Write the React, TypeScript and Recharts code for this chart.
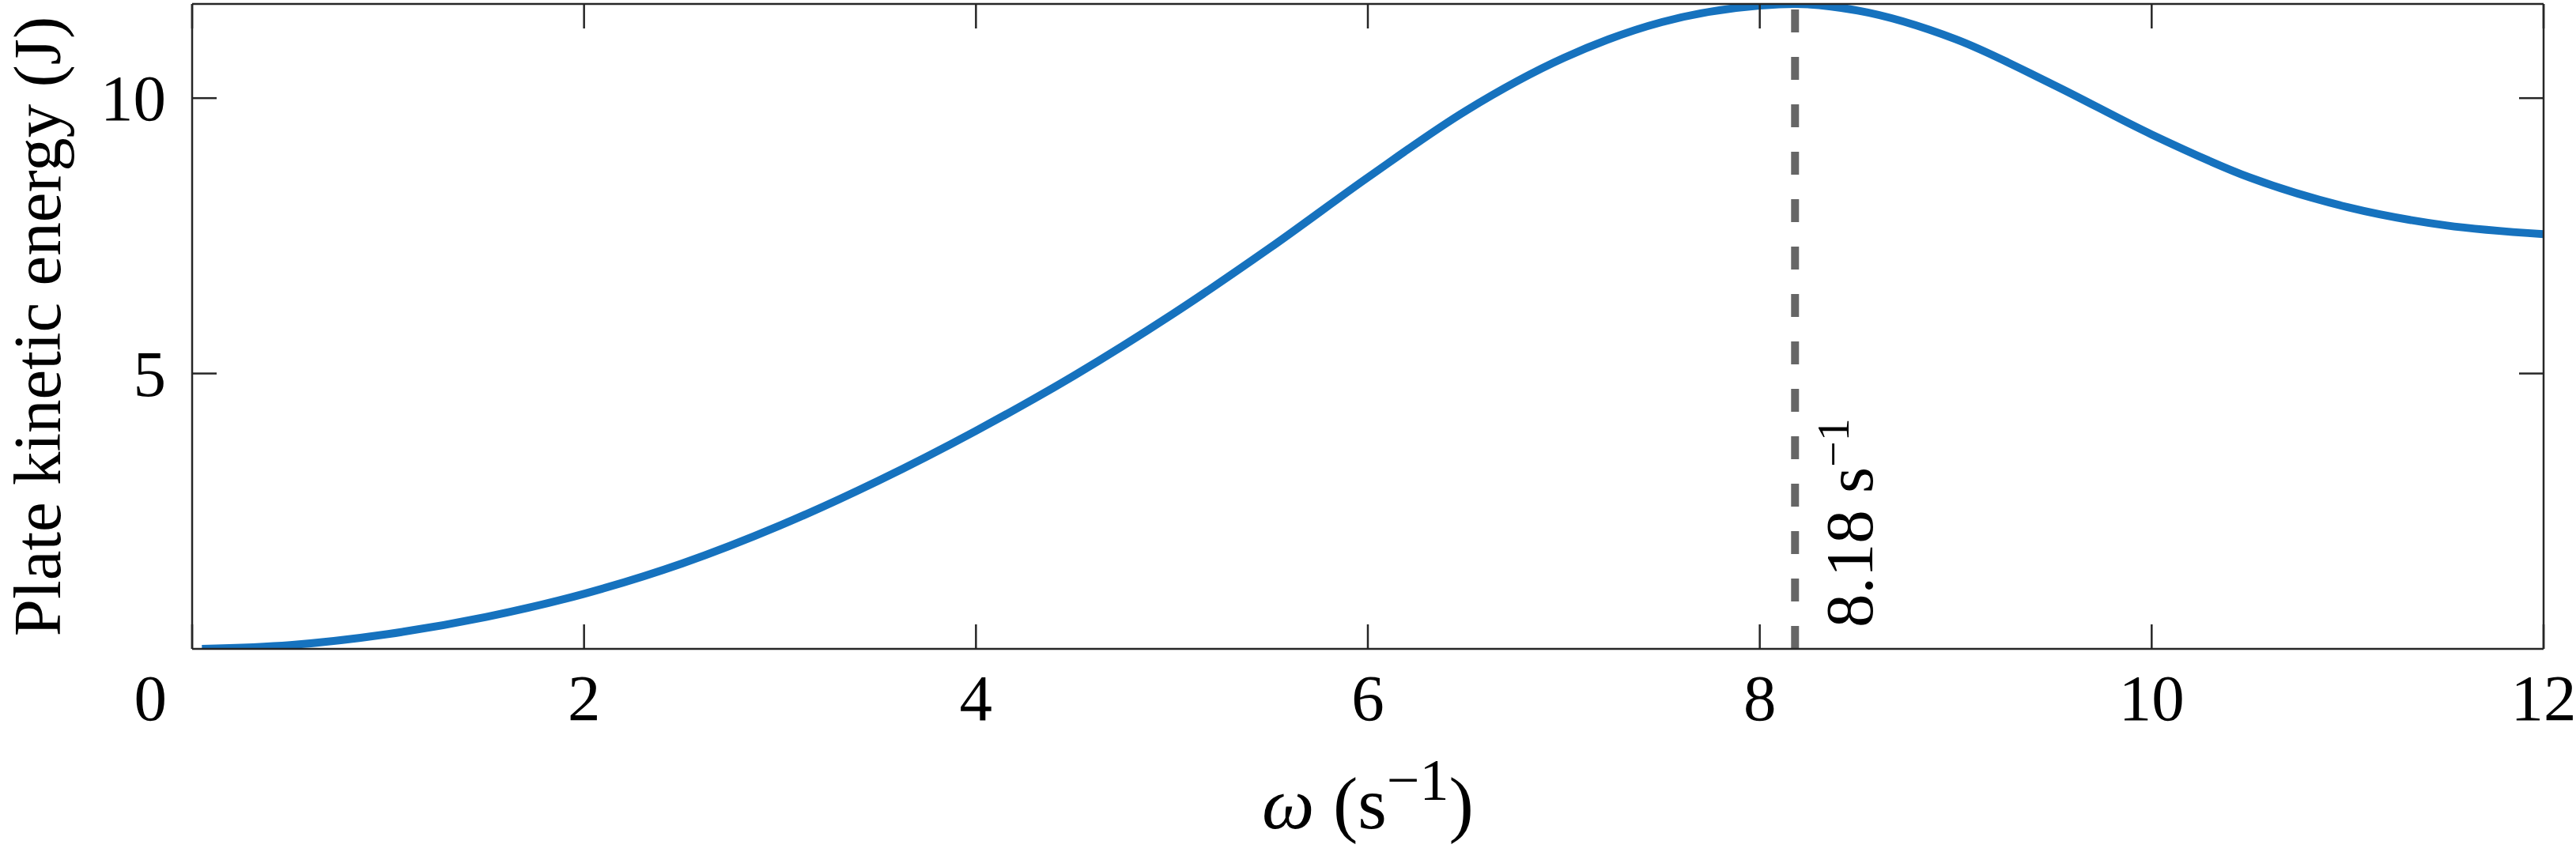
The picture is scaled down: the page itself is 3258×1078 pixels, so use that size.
import { LineChart, Line, XAxis, YAxis, ReferenceLine, Label } from 'recharts';

// angular frequency (1/s) and plate kinetic energy (J)
const omega = [
  0.05, 0.5, 1.0, 1.5, 2.0, 2.5, 3.0, 3.5, 4.0, 4.5, 5.0, 5.5, 6.0, 6.5, 7.0, 7.5, 8.0, 8.18, 8.5,
  9.0, 9.5, 10.0, 10.5, 11.0, 11.5, 12.0,
];
const energy = [
  0.0, 0.07, 0.27, 0.58, 1.0, 1.55, 2.24, 3.05, 3.96, 4.96, 6.07, 7.28, 8.56, 9.77, 10.73, 11.38,
  11.68, 11.71, 11.59, 11.07, 10.24, 9.34, 8.56, 8.02, 7.69, 7.53,
];

const xTicks = [0, 2, 4, 6, 8, 10, 12];
const yTicks = [5, 10];
const yMax = 11.71;
const peakOmega = 8.18;
const peakLabel = '8.18 s';

const rows = omega.map((w, i) => ({ omega: w, energy: energy[i] }));

const INK = '#262626';
const FONT = '"Liberation Serif", "Times New Roman", serif';
const TICK_LEN = 31;

const BottomTick = ({ x, y, payload }: any) => {
  const first = payload.value === 0;
  return (
    <g>
      <line x1={x} y1={y} x2={x} y2={y - TICK_LEN} stroke={INK} strokeWidth={2.5} />
      <text
        x={first ? x - 32 : x}
        y={y + 90}
        textAnchor={first ? 'end' : 'middle'}
        fill="#000"
        fontFamily={FONT}
        fontSize={83}
      >
        {payload.value}
      </text>
    </g>
  );
};

// top and right frame: tick marks only, pointing into the plot
const TopTick = ({ x, y }: any) => (
  <line x1={x} y1={y} x2={x} y2={y + TICK_LEN} stroke={INK} strokeWidth={2.5} />
);

const RightTick = ({ x, y }: any) => (
  <line x1={x} y1={y} x2={x - TICK_LEN} y2={y} stroke={INK} strokeWidth={2.5} />
);

const LeftTick = ({ x, y, payload }: any) => (
  <g>
    <line x1={x} y1={y} x2={x + TICK_LEN} y2={y} stroke={INK} strokeWidth={2.5} />
    <text x={x - 33} y={y + 28} textAnchor="end" fill="#000" fontFamily={FONT} fontSize={83}>
      {payload.value}
    </text>
  </g>
);

const XLabel = ({ viewBox }: any) => {
  const cx = viewBox.x + viewBox.width / 2;
  return (
    <text x={cx} y={viewBox.y + 227} textAnchor="middle" fill="#000" fontFamily={FONT} fontSize={94}>
      <tspan fontStyle="italic">ω</tspan>
      <tspan> (s</tspan>
      <tspan fontSize={74} dy={-36}>−1</tspan>
      <tspan dy={36}>)</tspan>
    </text>
  );
};

const YLabel = ({ viewBox }: any) => {
  const x = viewBox.x + 76;
  const y = viewBox.y + viewBox.height / 2;
  return (
    <text
      x={x}
      y={y}
      transform={`rotate(-90 ${x} ${y})`}
      textAnchor="middle"
      fill="#000"
      fontFamily={FONT}
      fontSize={85}
    >
      Plate kinetic energy (J)
    </text>
  );
};

const PeakLabel = ({ viewBox }: any) => {
  const x = viewBox.x + 98;
  const y = viewBox.y + viewBox.height - 27;
  return (
    <text
      x={x}
      y={y}
      transform={`rotate(-90 ${x} ${y})`}
      textAnchor="start"
      fill="#000"
      fontFamily={FONT}
      fontSize={85}
    >
      {peakLabel}
      <tspan fontSize={58} dy={-30}>−1</tspan>
    </text>
  );
};

export default function App() {
  return (
    <div style={{ position: 'absolute', left: 0, top: 0, width: 3258, height: 1078, background: '#fff' }}>
      <LineChart width={3258} height={1078} data={rows} margin={{ top: 5, right: 41, bottom: 0, left: 0 }}>
        <XAxis
          xAxisId="b"
          dataKey="omega"
          type="number"
          domain={[0, 12]}
          ticks={xTicks}
          interval={0}
          height={257}
          tickSize={0}
          tickMargin={0}
          tickLine={false}
          axisLine={{ stroke: INK, strokeWidth: 2.5 }}
          tick={<BottomTick />}
        >
          <Label content={<XLabel />} />
        </XAxis>
        <XAxis
          xAxisId="t"
          dataKey="omega"
          type="number"
          orientation="top"
          domain={[0, 12]}
          ticks={xTicks}
          interval={0}
          height={1}
          mirror
          tickSize={0}
          tickMargin={0}
          tickLine={false}
          tick={<TopTick />}
          axisLine={{ stroke: INK, strokeWidth: 2.5 }}
        />
        <YAxis
          yAxisId="l"
          type="number"
          domain={[0, yMax]}
          allowDataOverflow
          ticks={yTicks}
          interval={0}
          width={243}
          tickSize={0}
          tickMargin={0}
          tickLine={false}
          axisLine={{ stroke: INK, strokeWidth: 2.5 }}
          tick={<LeftTick />}
        >
          <Label content={<YLabel />} />
        </YAxis>
        <YAxis
          yAxisId="r"
          type="number"
          orientation="right"
          domain={[0, yMax]}
          allowDataOverflow
          ticks={yTicks}
          interval={0}
          width={1}
          mirror
          tickSize={0}
          tickMargin={0}
          tickLine={false}
          tick={<RightTick />}
          axisLine={{ stroke: INK, strokeWidth: 2.5 }}
        />
        <ReferenceLine
          xAxisId="b"
          yAxisId="l"
          x={peakOmega}
          stroke="#666666"
          strokeWidth={10}
          strokeDasharray="29 31"
          label={<PeakLabel />}
        />
        <Line
          xAxisId="b"
          yAxisId="l"
          dataKey="energy"
          type="monotone"
          stroke="#1672BE"
          strokeWidth={10}
          dot={false}
          activeDot={false}
          isAnimationActive={false}
        />
      </LineChart>
    </div>
  );
}
